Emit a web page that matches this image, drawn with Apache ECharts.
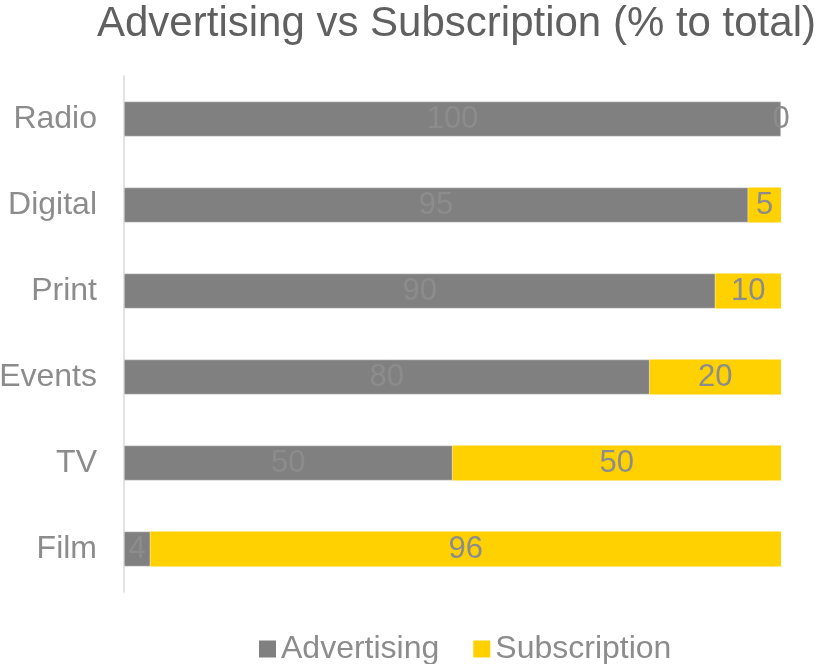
<!DOCTYPE html>
<html><head><meta charset="utf-8">
<script src="https://cdn.jsdelivr.net/npm/echarts@6/dist/echarts.min.js"></script>
<style>html,body{margin:0;padding:0;background:#fff}#c{width:825px;height:664px}</style>
</head><body><div id="c"></div>
<script>
const categories = ['Film', 'TV', 'Events', 'Print', 'Digital', 'Radio'];
const advertising = [4, 50, 80, 90, 95, 100];
const subscription = [96, 50, 20, 10, 5, 0];
const titleText = 'Advertising vs Subscription (% to total)';

const chart = echarts.init(document.getElementById('c'));
const font = '"Liberation Sans", Arial, sans-serif';
chart.setOption({
  animation: false,
  title: {
    text: titleText, left: 92, top: -2,
    textStyle: { fontFamily: font, fontSize: 42, fontWeight: 'normal', color: '#606060' }
  },
  legend: {
    top: 628, left: 254, itemWidth: 17, itemHeight: 17, itemGap: 34,
    icon: 'rect',
    itemStyle: { borderWidth: 0 },
    textStyle: { fontFamily: font, fontSize: 32, color: '#8c8c8c' },
    data: ['Advertising', 'Subscription']
  },
  grid: { left: 124, right: 44, top: 76, bottom: 72, containLabel: false, outerBoundsMode: 'none' },
  xAxis: { type: 'value', min: 0, max: 100, show: false },
  yAxis: {
    type: 'category', data: categories,
    axisLine: { show: true, lineStyle: { color: '#d9d9d9', width: 1.5 } },
    axisTick: { show: false },
    axisLabel: { fontFamily: font, fontSize: 32, color: '#8c8c8c', margin: 27, padding: [4, 0, 0, 0] }
  },
  series: [
    {
      name: 'Advertising', type: 'bar', stack: 't', data: advertising, barWidth: 35,
      itemStyle: { color: '#808080', borderColor: '#e6e6e6', borderWidth: 0.5 },
      label: { show: true, position: 'inside', fontFamily: font, fontSize: 31, color: '#8c8c8c', padding: [4, 0, 0, 0] }
    },
    {
      name: 'Subscription', type: 'bar', stack: 't', data: subscription, barWidth: 35,
      itemStyle: { color: '#ffd100' },
      label: { show: true, position: 'inside', fontFamily: font, fontSize: 31, color: '#8c8c8c', padding: [4, 0, 0, 0] }
    }
  ]
});
</script></body></html>
